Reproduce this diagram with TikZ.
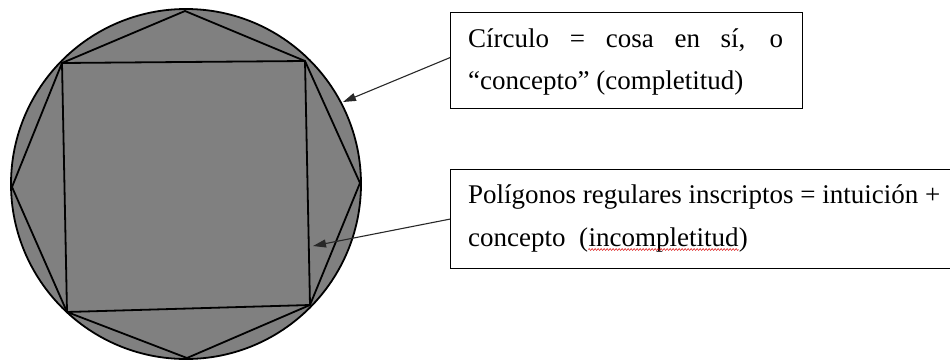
\documentclass[tikz,border=0pt]{standalone}
\usepackage{fontspec}
\setmainfont{Liberation Serif}
\usetikzlibrary{arrows.meta,decorations.pathmorphing}
\definecolor{disc}{RGB}{128,128,128}
\definecolor{arrowgray}{RGB}{40,40,40}
\begin{document}
\begin{tikzpicture}[x=1pt,y=-1pt,
  poly/.style={draw=black, line width=1.8pt, line join=round},
  labelbox/.style={draw=black, line width=1.2pt, fill=white, rectangle, inner sep=0pt, anchor=north west},
  pointer/.style={draw=arrowgray, line width=1.1pt, -{Triangle[length=13pt,width=8pt]}},
  txt/.style={inner sep=0pt, anchor=base west, font=\fontsize{27}{31}\selectfont},
  spellwave/.style={draw=red!85!black, line width=0.5pt, decorate, decoration={zigzag, amplitude=0.9pt, segment length=3pt}}]
\useasboundingbox (0,0) rectangle (950,362);
\clip (0,0) rectangle (950,362);

% disc
\node[circle, draw=black, fill=disc, line width=1.8pt, minimum size=350pt, inner sep=0pt] (c) at (186,184) {};

% polygon vertices
\coordinate (p1) at (185,11);
\coordinate (p2) at (305,61);
\coordinate (p3) at (360,183);
\coordinate (p4) at (310,305);
\coordinate (p5) at (187,358);
\coordinate (p6) at (67,312);
\coordinate (p7) at (12,187);
\coordinate (p8) at (62,63);
\draw[poly] (p1)--(p2)--(p3)--(p4)--(p5)--(p6)--(p7)--(p8)--cycle;
\draw[poly] (p2)--(p4)--(p6)--(p8)--cycle;

% label boxes
\node[labelbox, minimum width=352pt, minimum height=96pt] (b1) at (450,12) {};
\node[txt] (t1a) at (468,47) {\makebox[315pt][s]{Círculo = cosa en sí, o}};
\node[txt] (t1b) at (468,89) {“concepto” (completitud)};

\node[labelbox, minimum width=520pt, minimum height=99pt] (b2) at (450,169) {};
\node[txt] (t2a) at (468,203) {Polígonos regulares inscriptos = intuición +};
\node[txt] (t2b) at (468,246) {concepto\ \ (};
\node[txt] (t2w) at (t2b.base east) {incompletitud};
\node[txt] (t2c) at (t2w.base east) {)};
\draw[spellwave] ([yshift=-3.5pt]t2w.base west) -- ([yshift=-3.5pt]t2w.base east);

% arrows
\coordinate (a1) at (343,102);
\coordinate (a2) at (313,246);
\draw[pointer] ([yshift=3pt]b1.west) -- (a1);
\draw[pointer] (b2.west) -- (a2);
\end{tikzpicture}
\end{document}
